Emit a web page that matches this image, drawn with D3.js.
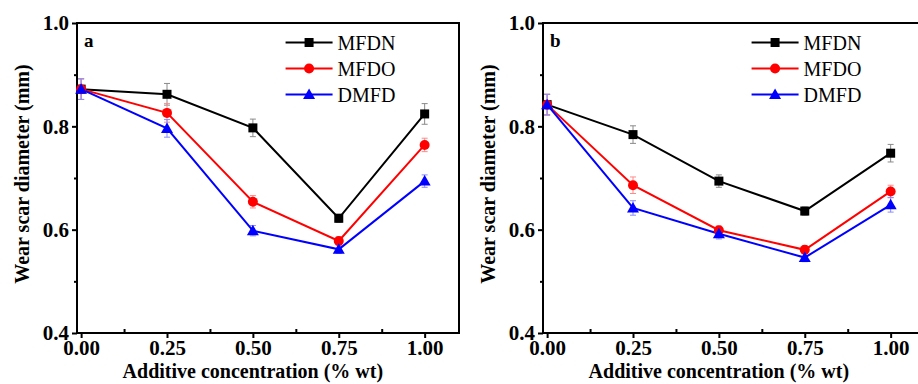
<!DOCTYPE html>
<meta charset="utf-8" />
<script src="https://d3js.org/d3.v7.min.js"></script>
<body style="margin:0;background:#fff">
<svg id="chart" width="918" height="384" style="display:block"></svg>
<script>
/* data ------------------------------------------------------------------ */
const conc = [0, 0.25, 0.5, 0.75, 1.0];
const seriesNames = ["MFDN", "MFDO", "DMFD"];
const panelLabels = ["a", "b"];
const yTicks = [0.4, 0.6, 0.8, 1.0];
const xTicks = [0, 0.25, 0.5, 0.75, 1.0];

// panel a
const aMFDN = [0.872, 0.862, 0.797, 0.622, 0.824];
const aMFDO = [0.872, 0.826, 0.654, 0.578, 0.764];
const aDMFD = [0.872, 0.796, 0.598, 0.562, 0.694];
const aErrMFDN = [0.020, 0.021, 0.017, 0.008, 0.020];
const aErrMFDO = [0.020, 0.018, 0.012, 0.008, 0.013];
const aErrDMFD = [0.020, 0.017, 0.010, 0.008, 0.012];
// panel b
const bMFDN = [0.842, 0.784, 0.694, 0.636, 0.748];
const bMFDO = [0.842, 0.686, 0.599, 0.561, 0.674];
const bDMFD = [0.842, 0.642, 0.592, 0.546, 0.648];
const bErrMFDN = [0.020, 0.017, 0.012, 0.008, 0.017];
const bErrMFDO = [0.020, 0.016, 0.008, 0.008, 0.012];
const bErrDMFD = [0.020, 0.014, 0.010, 0.008, 0.014];

/* config ---------------------------------------------------------------- */
const colors = {MFDN: "#000", MFDO: "#ff0000", DMFD: "#0000ff"};
const errColors = {MFDN: "#8a8a8a", MFDO: "#ff8a8a", DMFD: "#8a8aff"};
const font = "'Liberation Serif','Times New Roman',serif";
const panels = [
  {left: 77, top: 23, w: 382, h: 310, titleX: 29, series: [aMFDN, aMFDO, aDMFD], errs: [aErrMFDN, aErrMFDO, aErrDMFD]},
  {left: 543, top: 23, w: 382, h: 310, titleX: 495, series: [bMFDN, bMFDO, bDMFD], errs: [bErrMFDN, bErrMFDO, bErrDMFD]}
];

const svg = d3.select("#chart");

panels.forEach((p, pi) => {
  const x = d3.scaleLinear().domain([-0.012, 1.1]).range([p.left, p.left + p.w]);
  const y = d3.scaleLinear().domain([0.4, 1.0]).range([p.top + p.h, p.top]);
  const g = svg.append("g");

  /* axes ---------------------------------------------------------------- */
  g.append("g").attr("transform", `translate(${p.left},0)`)
    .call(d3.axisLeft(y).tickValues(yTicks).tickFormat(d3.format(".1f")).tickSize(5).tickPadding(3));
  g.append("g").attr("transform", `translate(${p.left},0)`)
    .call(d3.axisLeft(y).tickValues([0.5, 0.7, 0.9]).tickFormat("").tickSize(3))
    .select(".domain").remove();
  g.append("g").attr("transform", `translate(0,${p.top + p.h})`)
    .call(d3.axisBottom(x).tickValues(xTicks).tickFormat(d3.format(".2f")).tickSize(5).tickPadding(2));
  g.append("g").attr("transform", `translate(0,${p.top + p.h})`)
    .call(d3.axisBottom(x).tickValues([0.125, 0.375, 0.625, 0.875]).tickFormat("").tickSize(-4))
    .select(".domain").remove();
  g.selectAll(".domain").remove();
  g.selectAll(".tick line").attr("stroke", "#000").attr("stroke-width", 2);
  g.selectAll(".tick text").attr("font-family", font).attr("font-weight", "bold")
    .attr("font-size", 21).attr("fill", "#000");

  // frame
  g.append("rect").attr("x", p.left).attr("y", p.top).attr("width", p.w).attr("height", p.h)
    .attr("fill", "none").attr("stroke", "#000").attr("stroke-width", 2);

  // titles
  g.append("text").attr("x", x(0.5)).attr("y", 378).attr("text-anchor", "middle")
    .attr("font-family", font).attr("font-weight", "bold").attr("font-size", 20)
    .text("Additive concentration (% wt)");
  g.append("text").attr("transform", `translate(${p.titleX},174) rotate(-90)`)
    .attr("text-anchor", "middle").attr("font-family", font).attr("font-weight", "bold")
    .attr("font-size", 20).text("Wear scar diameter (mm)");
  g.append("text").attr("x", p.left + 7).attr("y", 47).attr("font-family", font)
    .attr("font-weight", "bold").attr("font-size", 19).text(panelLabels[pi]);

  /* data ---------------------------------------------------------------- */
  const line = d3.line().x((d, i) => x(conc[i])).y(d => y(d));
  seriesNames.forEach((name, si) => {
    const vals = p.series[si], errs = p.errs[si];
    const eb = g.append("g").attr("stroke", errColors[name]).attr("stroke-width", 1);
    vals.forEach((v, i) => {
      const cx = x(conc[i]);
      eb.append("line").attr("x1", cx).attr("x2", cx).attr("y1", y(v - errs[i])).attr("y2", y(v + errs[i]));
      eb.append("line").attr("x1", cx - 3).attr("x2", cx + 3).attr("y1", y(v - errs[i])).attr("y2", y(v - errs[i]));
      eb.append("line").attr("x1", cx - 3).attr("x2", cx + 3).attr("y1", y(v + errs[i])).attr("y2", y(v + errs[i]));
    });
  });
  seriesNames.forEach((name, si) => {
    g.append("path").datum(p.series[si]).attr("d", line)
      .attr("fill", "none").attr("stroke", colors[name]).attr("stroke-width", 2);
  });
  seriesNames.forEach((name, si) => {
    p.series[si].forEach((v, i) => marker(g, name, x(conc[i]), y(v)));
  });

  /* legend -------------------------------------------------------------- */
  const lx = p.left + p.w * 0.546;
  seriesNames.forEach((name, si) => {
    const ly = 42.5 + si * 26;
    g.append("line").attr("x1", lx).attr("x2", lx + 47).attr("y1", ly).attr("y2", ly)
      .attr("stroke", colors[name]).attr("stroke-width", 2);
    marker(g, name, lx + 23.5, ly);
    g.append("text").attr("x", lx + 52).attr("y", ly + 7).attr("font-family", font)
      .attr("font-size", 20).attr("fill", "#000").text(name);
  });
});

function marker(g, name, cx, cy) {
  const c = colors[name];
  if (name === "MFDN") {
    g.append("rect").attr("x", cx - 4.5).attr("y", cy - 4.5).attr("width", 9).attr("height", 9).attr("fill", c);
  } else if (name === "MFDO") {
    g.append("circle").attr("cx", cx).attr("cy", cy).attr("r", 5).attr("fill", c);
  } else {
    g.append("path").attr("d", `M${cx},${cy - 6}L${cx + 6},${cy + 4.5}L${cx - 6},${cy + 4.5}Z`).attr("fill", c);
  }
}
</script>
</body>
